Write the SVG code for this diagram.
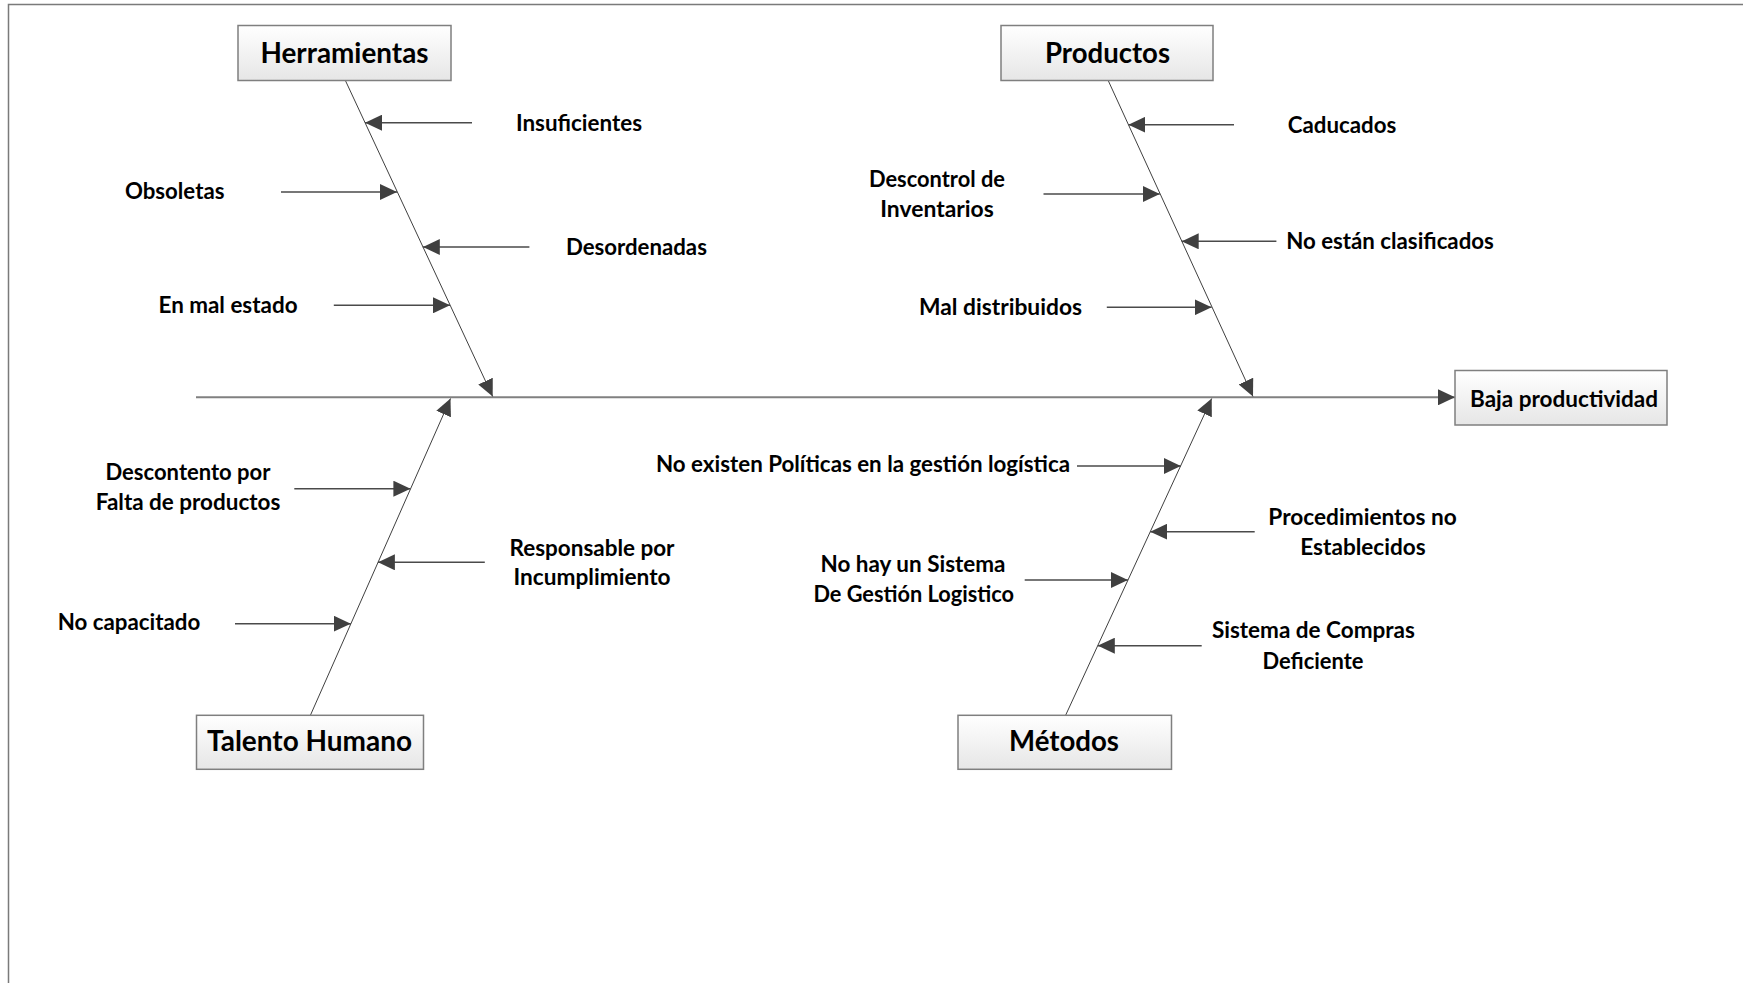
<svg xmlns="http://www.w3.org/2000/svg" width="1743" height="983" viewBox="0 0 1743 983">
  <defs>
    <linearGradient id="boxFill" x1="0" y1="0" x2="0" y2="1">
      <stop offset="0" stop-color="#ffffff"/>
      <stop offset="1" stop-color="#e6e6e6"/>
    </linearGradient>
    <marker id="arrow" markerUnits="userSpaceOnUse" markerWidth="17" markerHeight="16" refX="17" refY="8" orient="auto">
      <path d="M0,0 L17,8 L0,16 Z" fill="#404040"/>
    </marker>
    <style>
      .frame { fill: none; stroke: #7a7a7a; stroke-width: 1.5; }
      .box { fill: url(#boxFill); stroke: #7f7f7f; stroke-width: 1.5; }
      .spine { fill: none; stroke: #808080; stroke-width: 2; marker-end: url(#arrow); }
      .bone { fill: none; stroke: #404040; stroke-width: 1; marker-end: url(#arrow); }
      .cause { fill: none; stroke: #4a4a4a; stroke-width: 1.4; marker-end: url(#arrow); }
      text { font-family: Lato, "Liberation Sans", sans-serif; font-weight: bold; fill: #000; text-anchor: middle; }
      .head { font-size: 28px; }
      .lbl { font-size: 23px; }
    </style>
  </defs>

  <rect width="1743" height="983" fill="#ffffff"/>
  <!-- page frame (top and left edges) -->
  <path class="frame" d="M8.5,983 L8.5,4.5 L1743,4.5"/>

  <!-- connectors: spine, category bones and cause arrows -->
  <g id="connectors">
    <line class="spine" x1="196" y1="397.3" x2="1455" y2="397.3"/>
    <line class="bone" x1="345.3" y1="80.3" x2="492.7" y2="396.5"/>
    <line class="bone" x1="1108.1" y1="80.3" x2="1253" y2="396.5"/>
    <line class="bone" x1="310.4" y1="715.3" x2="450.5" y2="398.5"/>
    <line class="bone" x1="1065.6" y1="715.3" x2="1211.7" y2="398.5"/>

    <line class="cause" x1="472" y1="122.7" x2="365" y2="122.7"/>
    <line class="cause" x1="281" y1="192" x2="397" y2="192"/>
    <line class="cause" x1="529.4" y1="247" x2="422.8" y2="247"/>
    <line class="cause" x1="333.8" y1="305.3" x2="450" y2="305.3"/>

    <line class="cause" x1="1234" y1="124.7" x2="1128.4" y2="124.7"/>
    <line class="cause" x1="1043.5" y1="194" x2="1159.8" y2="194"/>
    <line class="cause" x1="1276.4" y1="241.3" x2="1181.7" y2="241.3"/>
    <line class="cause" x1="1106.8" y1="307.3" x2="1211.6" y2="307.3"/>

    <line class="cause" x1="294.3" y1="488.7" x2="410.4" y2="488.7"/>
    <line class="cause" x1="484.8" y1="562.3" x2="377.9" y2="562.3"/>
    <line class="cause" x1="235" y1="623.7" x2="350.8" y2="623.7"/>

    <line class="cause" x1="1077" y1="466" x2="1180.8" y2="466"/>
    <line class="cause" x1="1254.7" y1="531.7" x2="1150.2" y2="531.7"/>
    <line class="cause" x1="1024.7" y1="580" x2="1127.9" y2="580"/>
    <line class="cause" x1="1201.7" y1="645.7" x2="1097.8" y2="645.7"/>
  </g>

  <!-- category boxes -->
  <g id="herramientas">
    <rect class="box" x="238" y="25.5" width="213" height="55"/>
    <text class="head" x="344.5" y="62.5" textLength="168" lengthAdjust="spacingAndGlyphs">Herramientas</text>
  </g>
  <g id="productos">
    <rect class="box" x="1001" y="25.5" width="212" height="55"/>
    <text class="head" x="1107.5" y="62.5" textLength="125" lengthAdjust="spacingAndGlyphs">Productos</text>
  </g>
  <g id="talento-humano">
    <rect class="box" x="196.5" y="715.3" width="227" height="54"/>
    <text class="head" x="309.5" y="750.7" textLength="205" lengthAdjust="spacingAndGlyphs">Talento Humano</text>
  </g>
  <g id="metodos">
    <rect class="box" x="958" y="715.3" width="213.5" height="54"/>
    <text class="head" x="1064" y="750.7" textLength="110" lengthAdjust="spacingAndGlyphs">Métodos</text>
  </g>
  <g id="baja-productividad">
    <rect class="box" x="1455" y="370.5" width="212" height="54.5"/>
    <text class="lbl" x="1564" y="406.7" textLength="188" lengthAdjust="spacingAndGlyphs">Baja productividad</text>
  </g>

  <!-- cause labels -->
  <g id="causas-herramientas">
    <text class="lbl" x="579" y="130.7" textLength="126" lengthAdjust="spacingAndGlyphs">Insuficientes</text>
    <text class="lbl" x="174.7" y="199" textLength="99.5" lengthAdjust="spacingAndGlyphs">Obsoletas</text>
    <text class="lbl" x="636.4" y="255" textLength="141" lengthAdjust="spacingAndGlyphs">Desordenadas</text>
    <text class="lbl" x="228" y="313.3" textLength="139" lengthAdjust="spacingAndGlyphs">En mal estado</text>
  </g>
  <g id="causas-productos">
    <text class="lbl" x="1342" y="132.7" textLength="108.5" lengthAdjust="spacingAndGlyphs">Caducados</text>
    <text class="lbl" x="937" y="186.7" textLength="136" lengthAdjust="spacingAndGlyphs">Descontrol de</text>
    <text class="lbl" x="937" y="216.7" textLength="113.5" lengthAdjust="spacingAndGlyphs">Inventarios</text>
    <text class="lbl" x="1390" y="249.3" textLength="207.7" lengthAdjust="spacingAndGlyphs">No están clasificados</text>
    <text class="lbl" x="1000.5" y="314.7" textLength="163" lengthAdjust="spacingAndGlyphs">Mal distribuidos</text>
  </g>
  <g id="causas-talento">
    <text class="lbl" x="188" y="480" textLength="165" lengthAdjust="spacingAndGlyphs">Descontento por</text>
    <text class="lbl" x="188" y="510" textLength="184.5" lengthAdjust="spacingAndGlyphs">Falta de productos</text>
    <text class="lbl" x="592" y="556" textLength="165" lengthAdjust="spacingAndGlyphs">Responsable por</text>
    <text class="lbl" x="592" y="585.3" textLength="157" lengthAdjust="spacingAndGlyphs">Incumplimiento</text>
    <text class="lbl" x="129" y="630" textLength="142.7" lengthAdjust="spacingAndGlyphs">No capacitado</text>
  </g>
  <g id="causas-metodos">
    <text class="lbl" x="863" y="472" textLength="414" lengthAdjust="spacingAndGlyphs">No existen Políticas en la gestión logística</text>
    <text class="lbl" x="1362.5" y="525" textLength="188.4" lengthAdjust="spacingAndGlyphs">Procedimientos no</text>
    <text class="lbl" x="1363" y="555.3" textLength="125.4" lengthAdjust="spacingAndGlyphs">Establecidos</text>
    <text class="lbl" x="913" y="571.7" textLength="185" lengthAdjust="spacingAndGlyphs">No hay un Sistema</text>
    <text class="lbl" x="913.7" y="601.7" textLength="200.6" lengthAdjust="spacingAndGlyphs">De Gestión Logistico</text>
    <text class="lbl" x="1313.4" y="638.3" textLength="203" lengthAdjust="spacingAndGlyphs">Sistema de Compras</text>
    <text class="lbl" x="1313" y="668.7" textLength="101" lengthAdjust="spacingAndGlyphs">Deficiente</text>
  </g>
</svg>
